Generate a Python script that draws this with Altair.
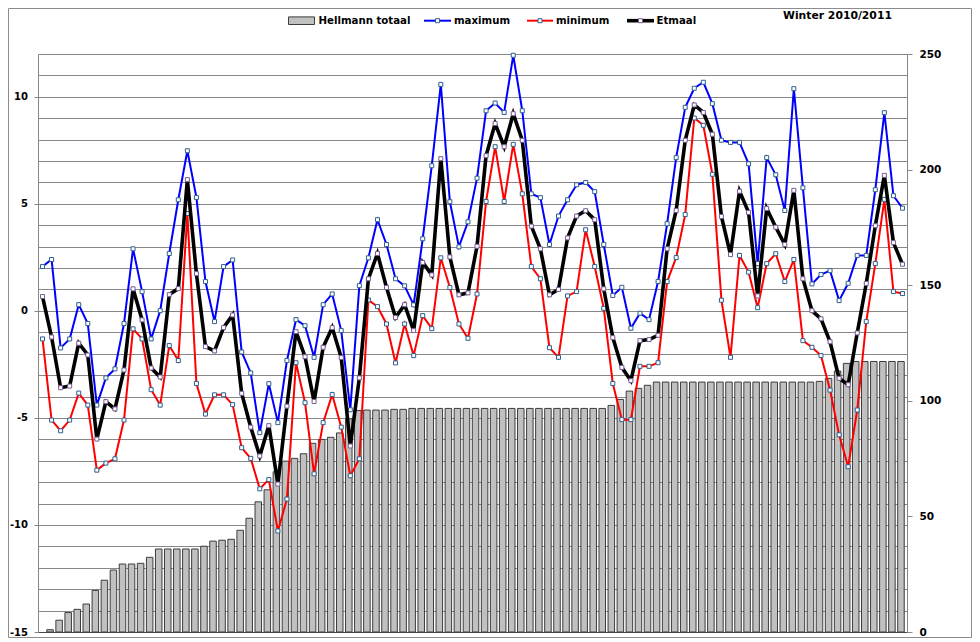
import altair as alt
import pandas as pd

# ---- data (96 days) ----
maximum = [2.07, 2.40, -1.73, -1.31, 0.29, -0.59, -4.40, -3.13, -2.71, -0.59,
           2.90, 0.90, -1.31, 0.01, 2.68, 5.19, 7.48, 5.30, 1.37, -0.50,
           2.07, 2.38, -1.92, -2.90, -5.69, -3.40, -5.22, -2.32, -0.41, -0.69,
           -2.17, 0.29, 0.79, -0.92, -4.62, 1.18, 2.48, 4.26, 3.10, 1.50,
           1.17, 0.28, 3.37, 6.78, 10.58, 5.10, 2.99, 4.16, 6.20, 9.35,
           9.71, 9.27, 11.94, 9.35, 5.47, 5.29, 3.10, 4.43, 5.19, 5.89,
           6.00, 5.57, 3.10, 0.72, 1.10, -0.81, -0.11, -0.41, 1.37, 4.07,
           7.16, 9.51, 10.40, 10.68, 9.68, 7.97, 7.87, 7.87, 6.87, 2.21,
           7.16, 6.36, 4.69, 10.38, 5.75, 1.26, 1.70, 1.88, 0.48, 1.29,
           2.59, 2.59, 5.66, 9.26, 5.38, 4.80]

minimum = [-1.31, -5.10, -5.60, -5.10, -3.84, -4.40, -7.44, -7.11, -6.91, -5.10,
           -0.84, -1.31, -3.68, -4.40, -1.62, -2.32, 4.55, -3.39, -4.82, -3.92,
           -3.92, -4.38, -6.39, -6.89, -8.31, -7.88, -10.28, -8.79, -2.42, -4.29,
           -7.61, -5.22, -3.91, -5.43, -7.70, -6.91, 0.51, 0.20, -0.61, -2.43,
           -0.61, -2.09, -0.22, -0.83, 2.48, 1.09, -0.61, -1.28, 0.79, 5.11,
           7.67, 5.11, 7.78, 5.47, 2.07, 1.50, -1.72, -2.17, 0.70, 0.90,
           3.79, 2.07, 0.12, -3.39, -5.08, -5.08, -2.59, -2.59, -2.42, 1.37,
           2.49, 4.50, 9.01, 8.67, 6.38, 0.50, -2.17, 2.59, 1.81, 0.15,
           2.21, 2.67, 1.37, 2.40, -1.39, -1.70, -2.09, -3.70, -5.79, -7.28,
           -4.63, -0.50, 2.21, 5.21, 0.90, 0.81]

etmaal = [0.67, -1.22, -3.59, -3.51, -1.51, -2.06, -5.99, -4.24, -4.58, -2.76,
          1.03, -0.42, -2.67, -3.09, 0.76, 1.04, 6.13, 1.74, -1.67, -1.87,
          -0.78, -0.19, -3.85, -5.43, -6.78, -5.36, -8.09, -4.45, -0.97, -2.14,
          -4.23, -1.70, -0.78, -2.18, -6.31, -3.13, 1.50, 2.68, 1.09, -0.31,
          0.29, -0.92, 2.26, 1.68, 7.11, 2.52, 0.75, 0.84, 3.02, 7.25,
          8.75, 7.67, 9.21, 7.97, 3.96, 2.90, 0.75, 1.00, 3.41, 4.43,
          4.68, 4.26, 1.03, -1.25, -2.64, -3.26, -1.39, -1.34, -1.14, 2.90,
          4.69, 7.97, 9.62, 9.27, 8.25, 4.41, 2.63, 5.59, 4.60, 0.70,
          4.78, 3.91, 3.10, 5.63, 1.50, 0.01, -0.37, -1.44, -3.15, -3.45,
          -1.03, 1.28, 3.98, 6.33, 3.19, 2.18]

hellmann = [None, 1.0, 5.1, 8.4, 9.8, 12.1, 18.0, 22.4, 26.8, 29.4, 29.4,
            29.7, 32.3, 35.9, 35.9, 35.9, 35.9, 35.9, 37.1, 39.3, 39.7,
            40.1, 44.0, 49.2, 56.3, 61.5, 69.3, 73.9, 75.1, 77.1, 81.6,
            83.3, 84.2, 86.1, 92.2, 95.8, 96.0, 96.0, 96.0, 96.3, 96.3,
            96.7, 96.7, 96.7, 96.7, 96.7, 96.7, 96.7, 96.7, 96.7, 96.7,
            96.7, 96.7, 96.7, 96.7, 96.7, 96.7, 96.7, 96.7, 96.7, 96.7,
            96.7, 96.7, 98.0, 100.6, 104.2, 105.4, 106.7, 108.1, 108.1, 108.1,
            108.1, 108.1, 108.1, 108.1, 108.1, 108.1, 108.1, 108.1, 108.1, 108.1,
            108.1, 108.1, 108.1, 108.1, 108.1, 108.4, 109.7, 112.9, 116.2, 117.0,
            117.0, 117.0, 117.0, 117.0, 117.0]

left_labels = [-15, -10, -5, 0, 5, 10]
right_labels = [0, 50, 100, 150, 200, 250]
legend_labels = ["Hellmann totaal", "maximum", "minimum", "Etmaal"]
title_text = "Winter 2010/2011"

dag = list(range(len(etmaal)))
df = pd.DataFrame({"dag": dag, "maximum": maximum, "minimum": minimum,
                   "Etmaal": etmaal, "Hellmann": hellmann})
one = pd.DataFrame({"k": [0]})

W, H = 869, 578
FONT = "DejaVu Sans"
GRID = "#878787"
MK1 = "#2f5f8f"
MK2 = "#7a5c94"

x = alt.X("dag:O", title=None,
          scale=alt.Scale(paddingInner=0.28, paddingOuter=0.14),
          axis=alt.Axis(labels=False, ticks=False, grid=False,
                        domainColor="#4a4a4a", domainWidth=1))

base = alt.Chart(df)

bars = base.transform_filter("isValid(datum.Hellmann)").mark_bar(
    fill="#c0c0c0", stroke="#3c3c3c", strokeWidth=1, xOffset=-1.5
).encode(
    x=x,
    y=alt.Y("Hellmann:Q", title=None,
            scale=alt.Scale(domain=[0, 250], nice=False, zero=True),
            axis=alt.Axis(orient="right", values=right_labels, grid=False,
                          tickSize=5, tickColor=GRID, domainColor=GRID,
                          labelPadding=7, labelAlign="left", labelBaseline="middle")),
)

tscale = alt.Scale(domain=[-15, 12], nice=False, zero=False)
shown = "indexof(" + str(left_labels) + ", datum.value) >= 0"
taxis = alt.Axis(orient="left", values=list(range(-15, 13)), grid=True,
                 gridColor=GRID, gridWidth=1, gridOpacity=1,
                 labelExpr=shown + " ? '' + datum.value : ''",
                 tickSize=4, tickColor={"condition": {"test": shown, "value": GRID},
                                        "value": "transparent"},
                 domainColor=GRID, labelPadding=6.5, labelFontSize=10,
                 labelBaseline="middle")


def series(field, color, width, mk):
    y = alt.Y(f"{field}:Q", title=None, scale=tscale, axis=taxis)
    line = base.mark_line(color=color, strokeWidth=width).encode(x=x, y=y)
    pts = base.mark_point(shape="square", filled=True, fill="white", stroke=mk,
                          strokeWidth=1, size=16, opacity=1).encode(x=x, y=y)
    return [line, pts]


lines = alt.layer(*(series("maximum", "#0000ff", 2, MK1)
                    + series("minimum", "#ff0000", 2, MK1)
                    + series("Etmaal", "#000000", 3.6, MK2)))

# ---- legend / title / frame decorations (pixel positions relative to plot) ----
dec = alt.Chart(one)
LY = -33.3
txt = dict(font=FONT, fontWeight="bold", fontSize=10.2, align="left", baseline="middle", color="#000000")
decor = [
    dec.mark_rect(fill="none", stroke="#8c8c8c", strokeWidth=1).encode(
        x=alt.value(-29.5), x2=alt.value(933.5), y=alt.value(-45.5), y2=alt.value(H + 5.5)),
    dec.mark_rect(fill="#c0c0c0", stroke="#3c3c3c", strokeWidth=1).encode(
        x=alt.value(250.5), x2=alt.value(276.5), y=alt.value(LY - 3.8), y2=alt.value(LY + 3.8)),
    dec.mark_text(text=legend_labels[0], **txt).encode(x=alt.value(280.5), y=alt.value(LY)),
]
for (x0, x1, color, w, mk, lab, tx) in [
        (386, 413, "#0000ff", 2, MK1, legend_labels[1], 416),
        (489, 515, "#ff0000", 2, MK1, legend_labels[2], 518),
        (589, 616, "#000000", 3.6, MK2, legend_labels[3], 618.5)]:
    decor.append(dec.mark_rule(color=color, strokeWidth=w).encode(
        x=alt.value(x0), x2=alt.value(x1), y=alt.value(LY)))
    decor.append(dec.mark_point(shape="square", filled=True, fill="white", stroke=mk,
                                strokeWidth=1, size=16, opacity=1).encode(
        x=alt.value((x0 + x1) / 2), y=alt.value(LY)))
    decor.append(dec.mark_text(text=lab, **txt).encode(x=alt.value(tx), y=alt.value(LY)))
decor.append(dec.mark_text(text=title_text, font=FONT, fontWeight="bold", fontSize=10.8,
                           align="left", baseline="middle", color="#000000").encode(
    x=alt.value(745), y=alt.value(-38.5)))

chart = alt.layer(bars, lines, *decor).resolve_scale(y="independent").properties(
    width=W, height=H,
    autosize=alt.AutoSizeParams(type="none"),
    padding={"left": 30, "top": 46, "right": 65, "bottom": 7},
    background="white",
).configure_view(stroke=None).configure_axis(
    labelFont=FONT, labelFontWeight="bold", labelFontSize=10.5, labelColor="#000000"
)

chart.save("out.html", embed_options={"renderer": "svg", "actions": False})
